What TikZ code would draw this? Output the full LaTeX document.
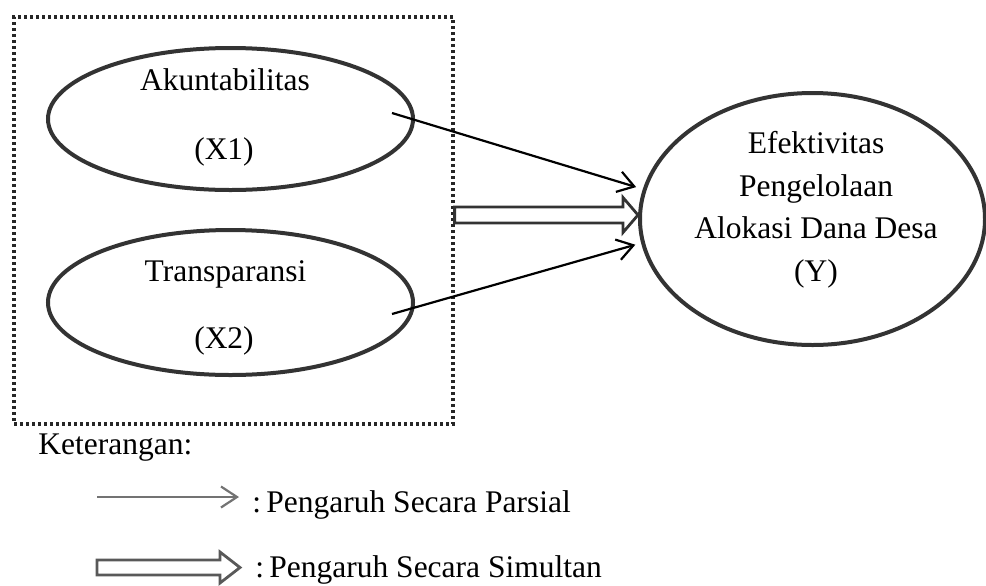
\documentclass[tikz,border=0pt]{standalone}
\usepackage{fontspec}
\setmainfont{Liberation Serif}
\usetikzlibrary{shapes.geometric,arrows.meta,calc}

\begin{document}
\begin{tikzpicture}[x=0.5pt,y=-0.5pt,
    every node/.style={font=\fontsize{15.75}{19}\selectfont,inner sep=0pt},
    var/.style={ellipse,draw=black!80,line width=2pt},
    framebox/.style={draw=black!85,line width=1.6pt,dash pattern=on 1.5pt off 1.5pt},
    parsial/.style={line width=1.1pt,-{Straight Barb[length=8pt,width=10.5pt]}},
    simultan/.style={draw=black!80,line width=1.4pt,fill=white,line join=miter},
    lbl/.style={anchor=base}]
        \clip (0,0) rectangle (986,585);
        % variables
        \node[var,minimum width=182.5pt,minimum height=71pt] (x1) at (230.5,119) {};
        \node[var,minimum width=182.5pt,minimum height=72.5pt] (x2) at (230.5,302.5) {};
        \node[var,minimum width=172.5pt,minimum height=126pt] (y) at (812.5,219) {};
        \node[lbl] (x1name) at (225,90.7) {Akuntabilitas};
        \node[lbl] (x1code) at (224,159) {(X1)};
        \node[lbl] (x2name) at (225.5,281.7) {Transparansi};
        \node[lbl] (x2code) at (224,348) {(X2)};
        \node[lbl] (yname1) at (816,153) {Efektivitas};
        \node[lbl] (yname2) at (816,196) {Pengelolaan};
        \node[lbl] (yname3) at (816,238) {Alokasi Dana Desa};
        \node[lbl] (ycode) at (816,281) {(Y)};
        % dotted frame round X1 and X2
        \node[framebox,minimum width=219.5pt,minimum height=203.5pt] (frame) at (233.5,220.5) {};
        % partial effects
        \coordinate (a1) at (392,113);
        \coordinate (a2) at (392,314);
        \draw[parsial,shorten >=3.5pt] (a1) -- (y.170);
        \draw[parsial,shorten >=3pt] (a2) -- (y.188);
        % simultaneous effect
        \coordinate (s0) at (frame.east |- 0,215);
        \coordinate (s1) at (638,215);
        \draw[simultan] ($(s0)+(0,-8)$) -- ($(s1)+(-15,-8)$) -- ($(s1)+(-15,-17.5)$) -- (s1)
            -- ($(s1)+(-15,17.5)$) -- ($(s1)+(-15,8)$) -- ($(s0)+(0,8)$) -- cycle;
        % legend
        \node[anchor=base west] (ket) at (38,454) {Keterangan:};
        \coordinate (p0) at (97,497);
        \coordinate (p1) at (239,497);
        \draw[parsial,draw=black!55] (p0) -- (p1);
        \node[anchor=base west] (ketpar) at (252,512) {:\,Pengaruh Secara Parsial};
        \coordinate (l0) at (97,567.5);
        \coordinate (l1) at (240,567.5);
        \draw[simultan,draw=black!65] ($(l0)+(0,-7.5)$) -- ($(l1)+(-20,-7.5)$) -- ($(l1)+(-20,-15.5)$) -- (l1)
            -- ($(l1)+(-20,15.5)$) -- ($(l1)+(-20,7.5)$) -- ($(l0)+(0,7.5)$) -- cycle;
        \node[anchor=base west] (ketsim) at (255,577) {:\,Pengaruh Secara Simultan};
\end{tikzpicture}
\end{document}
